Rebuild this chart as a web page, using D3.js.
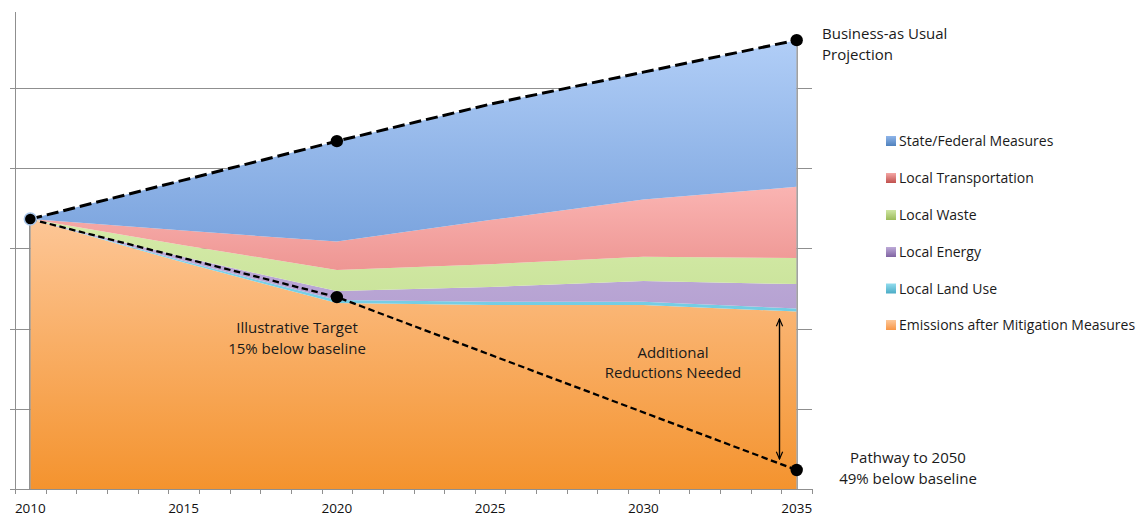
<!DOCTYPE html>
<html>
<head>
<meta charset="utf-8">
<script src="https://cdn.jsdelivr.net/npm/d3@7"></script>
<style>
  html, body { margin: 0; padding: 0; background: #fff; }
  svg { display: block; font-family: "Open Sans", sans-serif; }
</style>
</head>
<body>
<svg id="chart" width="1141" height="516"></svg>
<script>
// ---------- DATA ----------
const categories = d3.range(2010, 2036);            // category axis, one slot per year
const tickLabels = [2010, 2015, 2020, 2025, 2030, 2035];
const dataYears = [2010, 2015, 2020, 2025, 2030, 2035];

const emissionsAfter = [3367, 2824, 2319, 2294, 2294, 2213];
const localLandUse   = [0, 19, 38, 41, 41, 40];
const localEnergy    = [0, 50, 112, 184, 259, 303];
const localWaste     = [0, 149, 262, 286, 303, 324];
const localTransport = [0, 181, 355, 549, 713, 889];
const stateFederal   = [0, 630, 1253, 1446, 1590, 1830];

const seriesNames = ["State/Federal Measures", "Local Transportation", "Local Waste",
                     "Local Energy", "Local Land Use", "Emissions after Mitigation Measures"];

const targetYears  = [2010, 2020, 2035];
const targetValues = [3367, 2394, 237];

const gridValues = [1000, 2000, 3000, 4000, 5000];

// ---------- LAYOUT ----------
const svg = d3.select("#chart");
const x = d3.scaleBand().domain(categories).range([15, 812]).padding(0);
const cx = yr => x(yr) + x.bandwidth() / 2;
const y = d3.scaleLinear().domain([0, 5950]).range([489, 12]);

const keys = ["emis", "land", "energy", "waste", "trans", "state"];
const rows = dataYears.map((yr, i) => ({
  year: yr, emis: emissionsAfter[i], land: localLandUse[i], energy: localEnergy[i],
  waste: localWaste[i], trans: localTransport[i], state: stateFederal[i]
}));
const stacked = d3.stack().keys(keys)(rows);

const colors = {
  state:  ["#B1CEF7", "#7BA4DE"],
  trans:  ["#FAB4B2", "#EE9693"],
  waste:  ["#D5EBA9", "#CBE49C"],
  energy: ["#C1AFDB", "#B6A2D2"],
  land:   ["#8ED8EB", "#72CCE3"],
  emis:   ["#FDC696", "#F4932E"]
};
const legendColors = {
  state:  ["#8FB5EA", "#4F81BD"],
  trans:  ["#F4A7A5", "#C0504D"],
  waste:  ["#CFE6A3", "#9BBB59"],
  energy: ["#BDAAD8", "#8064A2"],
  land:   ["#92DCEE", "#4BACC6"],
  emis:   ["#FDC89A", "#F79646"]
};

const defs = svg.append("defs");
function grad(id, c) {
  const g = defs.append("linearGradient").attr("id", id)
    .attr("x1", 0).attr("y1", 0).attr("x2", 0).attr("y2", 1);
  g.append("stop").attr("offset", "0%").attr("stop-color", c[0]);
  g.append("stop").attr("offset", "100%").attr("stop-color", c[1]);
}
keys.forEach(k => { grad("g_" + k, colors[k]); grad("lg_" + k, legendColors[k]); });

defs.append("marker").attr("id", "arrow").attr("viewBox", "0 0 10 10")
  .attr("refX", 9).attr("refY", 5).attr("markerWidth", 9).attr("markerHeight", 9)
  .attr("markerUnits", "userSpaceOnUse").attr("orient", "auto-start-reverse")
  .append("path").attr("d", "M1,1.5 L9,5 L1,8.5").attr("fill", "none")
  .attr("stroke", "#000").attr("stroke-width", 1.3);

// gridlines
svg.append("g").selectAll("line").data(gridValues).join("line")
  .attr("x1", 10).attr("x2", 812)
  .attr("y1", d => Math.round(y(d)) + 0.5).attr("y2", d => Math.round(y(d)) + 0.5)
  .attr("stroke", "#8f8f8f").attr("stroke-width", 1);

// areas
const area = d3.area().x(d => cx(d.data.year)).y0(d => y(d[0])).y1(d => y(d[1]));
svg.append("g").selectAll("path").data(stacked).join("path")
  .attr("d", area).attr("fill", d => `url(#g_${d.key})`);

// edge lines of the area
svg.append("line").attr("x1", cx(2010) - 0.5).attr("x2", cx(2010) - 0.5)
  .attr("y1", y(emissionsAfter[0])).attr("y2", y(0))
  .attr("stroke", "#8a8a8a").attr("stroke-width", 1.5);
const lastTop = stacked[stacked.length - 1][dataYears.length - 1][1];
svg.append("line").attr("x1", cx(2035) + 0.5).attr("x2", cx(2035) + 0.5)
  .attr("y1", y(lastTop)).attr("y2", y(0))
  .attr("stroke", "#9a9a9a").attr("stroke-width", 1.5);

// axes
svg.append("line").attr("x1", 15.5).attr("x2", 15.5).attr("y1", 12).attr("y2", 489.5)
  .attr("stroke", "#8f8f8f");
svg.append("line").attr("x1", 10).attr("x2", 812).attr("y1", 489.5).attr("y2", 489.5)
  .attr("stroke", "#8f8f8f");
const tickXs = categories.map(c => x(c)).concat([812]);
svg.append("g").selectAll("line").data(tickXs).join("line")
  .attr("x1", d => Math.round(d) + 0.5).attr("x2", d => Math.round(d) + 0.5)
  .attr("y1", 489).attr("y2", 494).attr("stroke", "#8f8f8f");
svg.append("g").selectAll("text").data(tickLabels).join("text")
  .attr("x", d => cx(d)).attr("y", 513).attr("text-anchor", "middle")
  .attr("font-size", 13.5).attr("fill", "#111").text(d => d);

// BAU line
const bau = rows.map(r => ({ year: r.year, v: keys.reduce((s, k) => s + r[k], 0) }));
const line = d3.line().x(d => cx(d.year)).y(d => y(d.v));
svg.append("path").datum(bau).attr("d", line).attr("fill", "none")
  .attr("stroke", "#000").attr("stroke-width", 3).attr("stroke-dasharray", "12,5");

// target line
const target = targetYears.map((yr, i) => ({ year: yr, v: targetValues[i] }));
svg.append("path").datum(target).attr("d", line).attr("fill", "none")
  .attr("stroke", "#000").attr("stroke-width", 2.3).attr("stroke-dasharray", "6.5,3.5");

// dots
const dots = [
  { year: 2020, v: bau[2].v }, { year: 2035, v: bau[5].v },
  { year: 2020, v: targetValues[1] }, { year: 2035, v: targetValues[2] }
];
svg.append("g").selectAll("circle").data(dots).join("circle")
  .attr("cx", d => cx(d.year)).attr("cy", d => y(d.v)).attr("r", 6.2).attr("fill", "#000");
svg.append("circle").attr("cx", cx(2010)).attr("cy", y(emissionsAfter[0])).attr("r", 6)
  .attr("fill", "#000").attr("stroke", "#a9c6ea").attr("stroke-width", 1.5);

// arrow
svg.append("line").attr("x1", 779.5).attr("x2", 779.5).attr("y1", 319).attr("y2", 459)
  .attr("stroke", "#000").attr("stroke-width", 1.4)
  .attr("marker-start", "url(#arrow)").attr("marker-end", "url(#arrow)");

// annotations
function label(lines, xx, yy, anchor) {
  const t = svg.append("text").attr("x", xx).attr("y", yy).attr("text-anchor", anchor)
    .attr("font-size", 15).attr("fill", "#1a1a1a");
  lines.forEach((s, i) => t.append("tspan").attr("x", xx).attr("dy", i ? 20.5 : 0).text(s));
}
label(["Business-as Usual", "Projection"], 822, 39, "start");
label(["Illustrative Target", "15% below baseline"], 297, 333, "middle");
label(["Additional", "Reductions Needed"], 673, 357.5, "middle");
label(["Pathway to 2050", "49% below baseline"], 908, 463, "middle");

// legend
const legendKeys = ["state", "trans", "waste", "energy", "land", "emis"];
const legendY = [141, 178, 215, 252, 288.5, 325];
const lg = svg.append("g").selectAll("g").data(legendKeys).join("g")
  .attr("transform", (d, i) => `translate(886,${legendY[i]})`);
lg.append("rect").attr("x", 0).attr("y", -5).attr("width", 10).attr("height", 10)
  .attr("fill", d => `url(#lg_${d})`);
lg.append("text").attr("x", 13).attr("y", 5).attr("font-size", 14)
  .attr("fill", "#1a1a1a").text((d, i) => seriesNames[i]);
</script>
</body>
</html>
